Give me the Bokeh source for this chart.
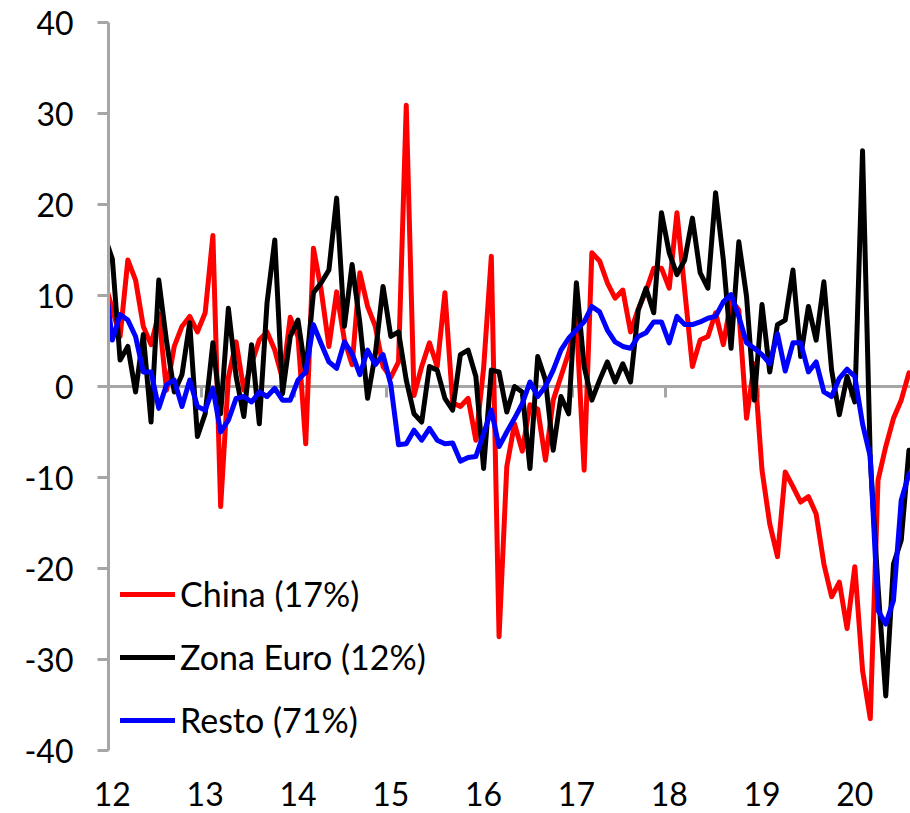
from bokeh.plotting import figure
from bokeh.models import LinearAxis, FixedTicker, Range1d, Legend, LegendItem
from bokeh.embed import file_html
from bokeh.resources import INLINE

# Monthly series; index 0 = Jan 2012 (first value = Dec 2011, clipped at the axis)
first_month = -1
china = [11.5, 8.5, 5.5, 13.9, 11.7, 6.6, 4.6, 8.0, -0.4, 4.4, 6.6, 7.7, 6.0,
         8.1, 16.6, -13.2, 1.0, 4.9, -0.4, 2.5, 5.1, 6.0, 4.0, 0.8, 7.6,
         5.5, -6.3, 15.2, 10.6, 4.4, 10.4, 5.1, 2.4, 12.5, 8.8, 6.6, 2.2,
         1.0, 2.7, 30.9, -1.0, 2.2, 4.8, 2.2, 10.3, -1.8, -2.2, -1.3, -5.9,
         2.0, 14.3, -27.5, -8.8, -4.1, -7.1, -2.0, -2.5, -8.1, -1.5, 1.1, 3.7,
         7.3, -9.2, 14.7, 13.8, 11.4, 9.7, 10.6, 6.0, 8.5, 10.5, 13.0, 13.0,
         10.8, 19.1, 10.6, 2.2, 5.1, 5.5, 8.1, 4.6, 9.5, 8.4, -3.5, 2.5,
         -9.2, -15.1, -18.7, -9.4, -11.0, -12.7, -12.1, -14.0, -19.5, -23.1, -21.5, -26.6,
         -19.8, -31.2, -36.5, -10.3, -6.6, -3.5, -1.5, 1.5]
zona_euro = [16.5, 14.0, 2.9, 4.4, -0.6, 5.7, -3.9, 11.7, 5.0, -0.6, 1.3, 7.0, -5.5,
             -3.0, 4.8, -3.0, 8.6, 1.1, -3.3, 4.6, -4.1, 9.2, 16.1, -0.8, 5.5,
             7.3, 1.5, 10.3, 11.4, 12.8, 20.7, 6.6, 13.4, 7.0, -1.3, 3.6, 11.0,
             5.5, 6.0, 0.7, -3.0, -3.9, 2.2, 1.8, -1.3, -2.6, 3.5, 4.0, 1.1,
             -9.0, 1.8, 1.6, -2.8, 0.0, -0.6, -9.0, 3.3, 0.7, -7.0, -1.1, -3.0,
             11.4, 2.2, -1.5, 0.7, 2.7, 0.5, 2.5, 0.5, 8.4, 10.8, 8.1, 19.1,
             14.7, 12.3, 13.9, 18.5, 12.5, 10.8, 21.3, 13.9, 4.2, 15.9, 9.9, -1.5,
             9.0, 1.6, 6.8, 7.3, 12.8, 3.3, 8.8, 5.1, 11.5, 1.8, -3.1, 1.1,
             -1.7, 25.9, -8.0, -22.0, -34.0, -19.5, -16.9, -7.0]
resto = [12.0, 5.1, 7.9, 7.3, 5.5, 1.6, 1.6, -2.4, 0.2, 0.7, -2.2, 0.7, -2.2,
         -2.6, -0.2, -5.0, -3.7, -1.3, -1.1, -1.7, -0.6, -1.1, -0.2, -1.5, -1.5,
         0.7, 1.6, 6.8, 4.7, 2.7, 2.0, 4.9, 3.6, 1.3, 4.0, 2.4, 3.5,
         0.2, -6.4, -6.3, -4.8, -5.9, -4.6, -5.9, -6.3, -6.2, -8.2, -7.8, -7.7,
         -5.2, -2.6, -6.6, -5.0, -3.5, -1.9, 0.5, -1.1, 0.0, 1.8, 4.0, 5.3,
         6.2, 7.1, 8.8, 8.2, 6.2, 4.9, 4.4, 4.2, 5.5, 5.9, 7.1, 7.1,
         4.8, 7.7, 6.8, 6.8, 7.1, 7.5, 7.7, 9.3, 10.1, 7.7, 4.8, 4.2,
         3.5, 2.5, 5.8, 1.7, 4.8, 4.8, 1.6, 2.7, -0.6, -1.1, 0.9, 1.9,
         1.1, -4.1, -7.7, -24.6, -26.1, -23.5, -12.5, -9.6]

year_labels = ["12", "13", "14", "15", "16", "17", "18", "19", "20"]
series_names = ["China (17%)", "Zona Euro (12%)", "Resto (71%)"]
series_colors = ["#FF0000", "#000000", "#0000FF"]
y_ticks = [-40, -30, -20, -10, 0, 10, 20, 30, 40]

GRAY = "#A6A6A6"
FONT = "Lato"
TICK_SIZE = "32px"
LEGEND_SIZE = "34px"

months = [first_month + i for i in range(len(china))]
label_ticks = [12 * k for k in range(len(year_labels))]
boundary_ticks = [12 * k - 0.5 for k in range(1, len(year_labels))]

p = figure(width=910, height=813,
           x_range=Range1d(-0.5, 103.2), y_range=Range1d(-40, 40),
           output_backend="svg", toolbar_location=None,
           x_axis_location=None, y_axis_location=None,
           min_border_left=108, min_border_right=0,
           min_border_top=22, min_border_bottom=63,
           outline_line_color=None,
           background_fill_color="white", border_fill_color="white")
p.xgrid.grid_line_color = None
p.ygrid.grid_line_color = None

# left value axis (plain hyphen minus signs, as in the original)
yaxis = LinearAxis(ticker=FixedTicker(ticks=y_ticks),
                   major_label_overrides={v: str(v) for v in y_ticks},
                   axis_line_color=GRAY, axis_line_width=3,
                   major_tick_line_color=GRAY, major_tick_line_width=3,
                   major_tick_out=11, major_tick_in=0,
                   minor_tick_line_color=None,
                   major_label_standoff=24,
                   major_label_text_font=FONT, major_label_text_font_size=TICK_SIZE,
                   major_label_text_color="black")
p.add_layout(yaxis, "left")

# category line crossing at zero, with year boundary ticks hanging down
zaxis = LinearAxis(fixed_location=0, ticker=FixedTicker(ticks=boundary_ticks),
                   major_label_overrides={t: "" for t in boundary_ticks},
                   axis_line_color=GRAY, axis_line_width=3,
                   major_tick_line_color=GRAY, major_tick_line_width=3,
                   major_tick_in=11, major_tick_out=0,
                   minor_tick_line_color=None,
                   major_label_text_font_size="10px", major_label_standoff=0,
                   level="underlay")
p.add_layout(zaxis, "above")

# year labels at the bottom
laxis = LinearAxis(ticker=FixedTicker(ticks=label_ticks),
                   major_label_overrides={t: lab for t, lab in zip(label_ticks, year_labels)},
                   axis_line_color=None, major_tick_line_color=None,
                   minor_tick_line_color=None, major_tick_out=0, major_tick_in=0,
                   major_label_standoff=31,
                   major_label_text_font=FONT, major_label_text_font_size=TICK_SIZE,
                   major_label_text_color="black")
p.add_layout(laxis, "below")

renderers = []
for vals, col in zip([china, zona_euro, resto], series_colors):
    r = p.line(months, vals, line_color=col, line_width=5,
               line_join="round", line_cap="round")
    renderers.append(r)

legend = Legend(items=[LegendItem(label=n, renderers=[r]) for n, r in zip(series_names, renderers)],
                location=(12, 10), orientation="vertical",
                label_text_font=FONT, label_text_font_size=LEGEND_SIZE,
                label_text_color="black",
                glyph_width=55, glyph_height=40, label_height=40,
                label_standoff=5, spacing=22, padding=0, margin=0,
                border_line_color=None,
                background_fill_color="white", background_fill_alpha=1.0)
p.add_layout(legend)

open("out.html", "w").write(file_html(p, INLINE))
